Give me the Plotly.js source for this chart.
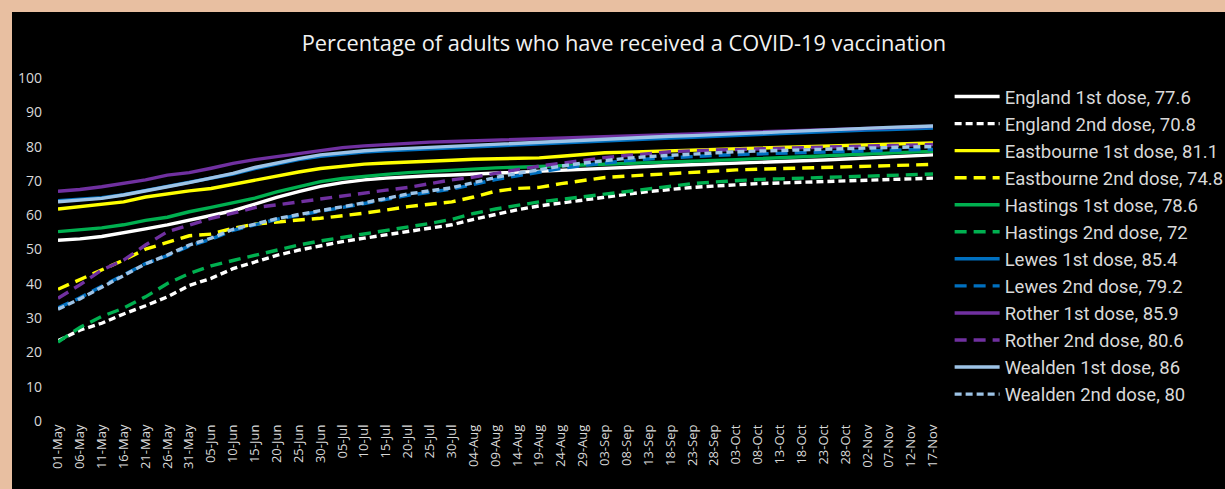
<!DOCTYPE html>
<html>
<head>
<meta charset="utf-8">
<script src="https://cdn.plot.ly/plotly-3.0.1.min.js"></script>
<style>
  html, body { margin: 0; padding: 0; width: 1225px; height: 489px; overflow: hidden; background: #E8BFA1; }
  #chart { position: absolute; left: 12px; top: 12px; width: 1213px; height: 477px; background: #000; }
</style>
</head>
<body>
<div id="chart"></div>
<script>
// Dates (every 5 days, matching the tick labels)
const dates = [
  "2021-05-01","2021-05-06","2021-05-11","2021-05-16","2021-05-21","2021-05-26","2021-05-31",
  "2021-06-05","2021-06-10","2021-06-15","2021-06-20","2021-06-25","2021-06-30",
  "2021-07-05","2021-07-10","2021-07-15","2021-07-20","2021-07-25","2021-07-30",
  "2021-08-04","2021-08-09","2021-08-14","2021-08-19","2021-08-24","2021-08-29",
  "2021-09-03","2021-09-08","2021-09-13","2021-09-18","2021-09-23","2021-09-28",
  "2021-10-03","2021-10-08","2021-10-13","2021-10-18","2021-10-23","2021-10-28",
  "2021-11-02","2021-11-07","2021-11-12","2021-11-17"
];

const england1 = [52.7,53.1,53.8,54.8,56.0,57.2,58.6,59.8,61.3,63.2,65.2,66.9,68.4,69.5,70.3,70.8,71.2,71.5,71.7,72.0,72.3,72.6,72.9,73.2,73.4,73.7,74.0,74.2,74.5,74.7,74.9,75.1,75.3,75.5,75.8,76.1,76.4,76.7,77.0,77.3,77.6];
const england2 = [23.4,26.5,28.5,31.2,33.6,36.2,39.5,41.6,44.4,46.4,48.3,49.8,51.1,52.3,53.3,54.3,55.2,56.2,57.2,58.8,60.3,61.6,62.7,63.6,64.5,65.3,66.1,66.9,67.6,68.1,68.5,68.9,69.2,69.4,69.6,69.8,70.0,70.2,70.4,70.6,70.8];
const eastbourne1 = [61.8,62.5,63.0,63.9,65.3,66.3,67.1,67.8,69.0,70.3,71.5,72.6,73.6,74.3,74.9,75.2,75.4,75.7,76.0,76.3,76.5,76.6,76.7,77.2,77.8,78.2,78.4,78.6,78.8,79.0,79.2,79.4,79.6,79.8,80.0,80.2,80.4,80.6,80.8,81.0,81.1];
const eastbourne2 = [38.4,41.3,44.1,46.9,50.1,52.1,54.0,54.5,56.2,57.4,58.1,58.6,59.1,59.8,60.6,61.5,62.5,63.2,63.9,65.3,67.0,67.8,68.1,69.2,70.2,71.0,71.4,71.8,72.2,72.6,73.0,73.2,73.4,73.6,73.8,74.0,74.2,74.4,74.5,74.7,74.8];
const hastings1 = [55.2,55.7,56.3,57.2,58.5,59.4,61.0,62.3,63.6,65.0,66.8,68.4,69.8,70.7,71.4,71.9,72.4,72.8,73.2,73.6,73.8,74.0,74.2,74.4,74.6,74.9,75.1,75.3,75.5,75.7,75.9,76.2,76.5,76.8,77.0,77.3,77.6,77.9,78.1,78.4,78.6];
const hastings2 = [23.0,27.3,30.5,32.9,36.2,40.1,43.0,45.2,46.8,48.3,50.0,51.3,52.5,53.5,54.7,55.7,56.7,57.6,58.8,60.5,61.8,62.8,63.9,64.6,65.4,66.2,67.0,67.8,68.6,69.2,69.7,70.1,70.4,70.6,70.8,71.0,71.3,71.5,71.7,71.9,72.0];
const lewes1 = [64.2,64.6,65.1,66.0,67.2,68.2,69.4,70.6,72.0,73.6,75.0,76.2,77.2,77.9,78.4,78.8,79.1,79.4,79.6,79.9,80.2,80.5,80.8,81.1,81.5,81.8,82.1,82.3,82.5,82.7,82.9,83.2,83.5,83.8,84.1,84.3,84.5,84.8,85.0,85.2,85.4];
const lewes2 = [33.0,35.9,39.3,42.7,45.9,48.2,51.0,53.0,55.6,57.2,58.8,60.0,61.1,62.1,63.4,64.6,65.8,66.7,67.6,69.0,70.4,71.5,72.6,73.6,74.5,75.3,75.9,76.4,76.8,77.1,77.4,77.7,77.9,78.1,78.3,78.5,78.7,78.8,79.0,79.1,79.2];
const rother1 = [67.0,67.5,68.3,69.3,70.3,71.7,72.4,73.7,75.1,76.2,77.1,78.1,79.0,79.7,80.2,80.6,81.0,81.3,81.5,81.7,82.0,82.2,82.4,82.6,82.9,83.1,83.3,83.5,83.7,83.8,84.0,84.1,84.3,84.5,84.7,84.9,85.1,85.3,85.5,85.7,85.9];
const rother2 = [35.8,39.7,44.0,46.9,51.3,55.2,57.1,59.1,60.6,62.2,63.0,63.9,64.7,65.6,66.4,67.3,68.1,69.2,70.3,71.1,72.3,73.3,74.3,75.2,76.0,76.8,77.4,78.0,78.5,78.8,79.0,79.2,79.4,79.6,79.7,79.9,80.0,80.2,80.3,80.5,80.6];
const wealden1 = [63.9,64.3,64.9,65.9,67.2,68.3,69.5,70.8,72.2,73.9,75.3,76.5,77.6,78.3,78.8,79.2,79.5,79.8,80.0,80.4,80.7,81.0,81.3,81.6,82.0,82.3,82.6,82.8,83.0,83.2,83.4,83.7,84.0,84.3,84.6,84.8,85.0,85.3,85.6,85.8,86.0];
const wealden2 = [32.6,35.6,39.0,42.4,45.8,48.4,51.3,53.3,55.9,57.4,59.0,60.2,61.3,62.3,63.6,64.9,66.2,67.1,68.0,69.5,71.0,72.2,73.3,74.3,75.2,76.0,76.6,77.1,77.5,77.9,78.2,78.5,78.7,78.9,79.1,79.3,79.5,79.6,79.8,79.9,80.0];

const seriesNames = [
  "England 1st dose, 77.6","England 2nd dose, 70.8",
  "Eastbourne 1st dose, 81.1","Eastbourne 2nd dose, 74.8",
  "Hastings 1st dose, 78.6","Hastings 2nd dose, 72",
  "Lewes 1st dose, 85.4","Lewes 2nd dose, 79.2",
  "Rother 1st dose, 85.9","Rother 2nd dose, 80.6",
  "Wealden 1st dose, 86","Wealden 2nd dose, 80"
];
const seriesValues = [england1, england2, eastbourne1, eastbourne2, hastings1, hastings2,
                      lewes1, lewes2, rother1, rother2, wealden1, wealden2];
const seriesColors = ["#FFFFFF","#FFFFFF","#FFFF00","#FFFF00","#00B050","#00B050",
                      "#0070C0","#0070C0","#7030A0","#7030A0","#9DC3E6","#9DC3E6"];
const seriesDash = ["solid","7px,4px","solid","12px,7px","solid","12px,7px",
                    "solid","12px,7px","solid","12px,7px","solid","7px,4px"];

const traces = seriesNames.map((name, i) => ({
  type: "scatter",
  mode: "lines",
  name: name,
  x: dates,
  y: seriesValues[i],
  line: { color: seriesColors[i], width: 3.4, dash: seriesDash[i], shape: "linear" },
  hoverinfo: "x+y+name"
}));

const FONT = "'Open Sans', Lato, sans-serif";
const LEGEND_FONT = "Roboto, Lato, sans-serif";

const layout = {
  width: 1213,
  height: 477,
  paper_bgcolor: "#000000",
  plot_bgcolor: "#000000",
  margin: { l: 46, r: 292, t: 66, b: 68, autoexpand: false },
  font: { family: FONT, color: "#D9D9D9" },
  title: {
    text: "Percentage of adults who have received a COVID-19 vaccination",
    font: { family: FONT, size: 21.8, color: "#F2F2F2" },
    xref: "container", x: 0.5045, xanchor: "center",
    yref: "container", y: 0.935, yanchor: "middle"
  },
  xaxis: {
    type: "date",
    range: ["2021-05-01", "2021-11-17"],
    tickvals: dates,
    tickformat: "%d-%b",
    tickangle: -90,
    tickfont: { family: FONT, size: 13, color: "#D9D9D9" },
    showgrid: false,
    zeroline: false,
    showline: false,
    ticks: ""
  },
  yaxis: {
    range: [0, 100],
    tickvals: [0,10,20,30,40,50,60,70,80,90,100],
    tickfont: { family: FONT, size: 14, color: "#D9D9D9" },
    showgrid: false,
    zeroline: false,
    showline: false,
    ticks: "",
    ticklabelstandoff: 15
  },
  legend: {
    x: 1.019, xanchor: "left",
    y: 1.0, yanchor: "top",
    bgcolor: "rgba(0,0,0,0)",
    font: { family: LEGEND_FONT, size: 18.5, color: "#D9D9D9" },
    itemwidth: 45,
    traceorder: "normal"
  },
  showlegend: true
};

Plotly.newPlot("chart", traces, layout, { displayModeBar: false, staticPlot: true });
</script>
</body>
</html>
